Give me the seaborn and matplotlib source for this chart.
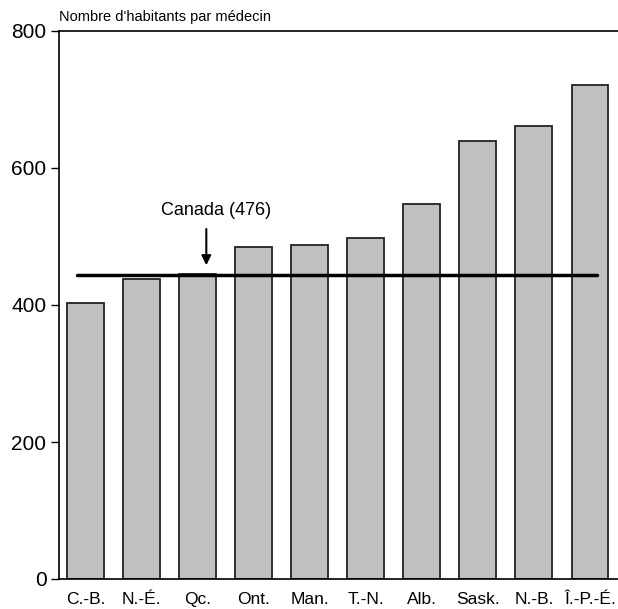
import matplotlib
matplotlib.use("Agg")
import matplotlib.pyplot as plt
import seaborn as sns
import pandas as pd

provinces = ["C.-B.", "N.-É.", "Qc.", "Ont.", "Man.", "T.-N.", "Alb.", "Sask.", "N.-B.", "Î.-P.-É."]
habitants = [403, 438, 445, 485, 487, 498, 547, 639, 662, 721]
canada_line = 444
canada_label = "Canada (476)"

df = pd.DataFrame({"province": provinces, "habitants": habitants})

sns.set_style("white")
plt.rcParams['font.family'] = ['Liberation Sans', 'DejaVu Sans']
plt.rcParams['text.color'] = 'black'
plt.rcParams['xtick.color'] = 'black'
plt.rcParams['ytick.color'] = 'black'

fig = plt.figure(figsize=(6.18, 6.09), dpi=100)
ax = fig.add_axes([59 / 618, 30 / 609, 1 - 59 / 618, 548 / 609])

sns.barplot(data=df, x="province", y="habitants", color="#c0c0c0", saturation=1,
            edgecolor="#222222", linewidth=1.3, width=0.66, ax=ax)

# ligne du Canada
ax.plot([-0.16, 9.13], [canada_line, canada_line], color="black", lw=2.5)
ax.annotate("", xy=(2.15, canada_line + 10), xytext=(2.15, 515),
            arrowprops=dict(arrowstyle="-|>", color="black", lw=1.5, mutation_scale=14))
ax.text(2.33, 538, canada_label, ha="center", va="center", fontsize=13)

ax.set_xlim(-0.48, 9.5)
ax.set_ylim(0, 800)
ax.set_yticks([0, 200, 400, 600, 800])
ax.set_xlabel("")
ax.set_ylabel("")
ax.text(0.0, 1.012, "Nombre d'habitants par médecin", transform=ax.transAxes,
        ha="left", va="bottom", fontsize=10.5)

ax.spines["right"].set_visible(False)
for s in ["left", "top", "bottom"]:
    ax.spines[s].set_color("black")
    ax.spines[s].set_linewidth(1.2)
ax.tick_params(axis="y", left=True, length=6, width=1, labelsize=15, pad=3, colors="black")
ax.tick_params(axis="x", bottom=False, labelsize=12.5, pad=6, colors="black")

fig.savefig("out.png", dpi=100)
